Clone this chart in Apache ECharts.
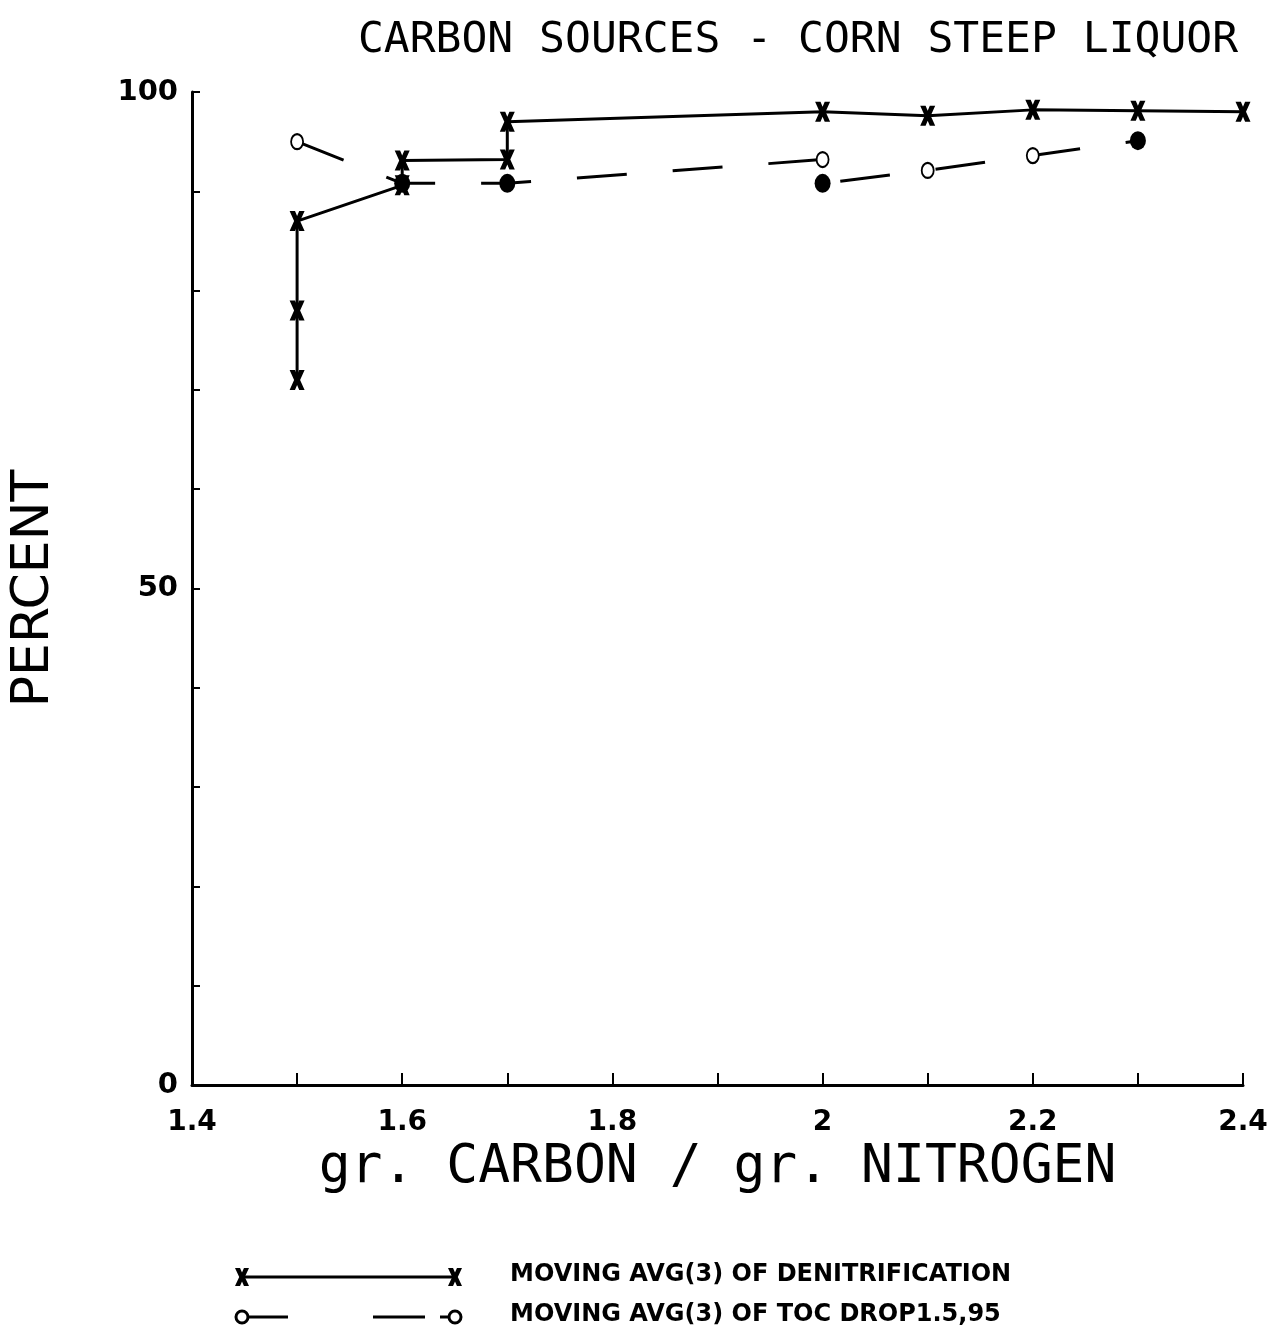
<!DOCTYPE html>
<html>
<head>
<meta charset="utf-8">
<script src="https://cdn.jsdelivr.net/npm/echarts@6/dist/echarts.min.js"></script>
<style>html,body{margin:0;padding:0;background:#fff;}#c{width:1274px;height:1343px;}</style>
</head>
<body>
<div id="c"></div>
<script>
// ---- data ----
const titleText = 'CARBON SOURCES - CORN STEEP LIQUOR';
const xAxisName = 'gr. CARBON / gr. NITROGEN';
const yAxisName = 'PERCENT';
const xTickLabels = ['1.4', '1.6', '1.8', '2', '2.2', '2.4'];
const yTickLabels = ['0', '50', '100'];
const denitName = 'MOVING AVG(3) OF DENITRIFICATION';
const tocName = 'MOVING AVG(3) OF TOC DROP1.5,95';
const denitX = [1.5, 1.5, 1.5, 1.6, 1.6, 1.7, 1.7, 2.0, 2.1, 2.2, 2.3, 2.4];
const denitY = [71, 78, 87, 90.6, 93.1, 93.2, 97.0, 98.0, 97.6, 98.2, 98.1, 98.0];
const tocX = [1.5, 1.6, 1.7, 2.0, 2.0, 2.1, 2.2, 2.3];
const tocY = [95.0, 90.8, 90.8, 93.2, 90.8, 92.1, 93.6, 95.1];
const tocFilled = [false, true, true, false, true, false, false, true];

const X_PATH = 'path://M0,0 L3.6,0 L5,3 L6.4,0 L10,0 L7,6 L10,12 L6.4,12 L5,9 L3.6,12 L0,12 L3,6 Z';

const chart = echarts.init(document.getElementById('c'));
const FONT = 'DejaVu Sans';
const MONO = 'DejaVu Sans Mono';

const denitData = denitX.map((x, i) => [x, denitY[i]]);
const tocData = tocX.map((x, i) => (tocFilled[i]
  ? { value: [x, tocY[i]], symbol: 'circle', symbolSize: [16, 19] }
  : { value: [x, tocY[i]], symbol: 'emptyCircle' }));

function xLabel(v) {
  const k = Math.round(v * 10);
  if (k % 2 !== 0) return '';
  const idx = (k - 14) / 2;
  return xTickLabels[idx] !== undefined ? xTickLabels[idx] : '';
}
function yLabel(v) {
  const s = String(Math.round(v));
  return yTickLabels.indexOf(s) >= 0 ? s : '';
}

// legend glyph helpers (legend decoration only, not data marks)
function xGlyph(cx, cy) {
  const pts = [[0,0],[3.6,0],[5,3],[6.4,0],[10,0],[7,6],[10,12],[6.4,12],[5,9],[3.6,12],[0,12],[3,6]]
    .map(p => [cx - 7 + p[0] * 1.4, cy - 9 + p[1] * 1.5]);
  return { type: 'polygon', shape: { points: pts }, style: { fill: '#000' } };
}
function oGlyph(cx, cy) {
  return { type: 'circle', shape: { cx: cx, cy: cy, r: 6 }, style: { fill: '#fff', stroke: '#000', lineWidth: 3 } };
}

const legendY1 = 1277, legendY2 = 1317;
const option = {
  backgroundColor: '#fff',
  animation: false,
  title: {
    text: titleText,
    left: 793, top: 14, textAlign: 'center',
    textStyle: { fontFamily: MONO, fontSize: 43, fontWeight: 'normal', color: '#000' }
  },
  grid: { left: 190, right: 31, top: 92, bottom: 258, containLabel: false },
  xAxis: {
    type: 'value', min: 1.4, max: 2.4, interval: 0.1,
    name: xAxisName, nameLocation: 'middle', nameGap: 54,
    nameTextStyle: { fontFamily: MONO, fontSize: 53, color: '#000' },
    axisLine: { show: true, lineStyle: { color: '#000', width: 3 } },
    axisTick: { show: true, inside: true, length: 12, lineStyle: { color: '#000', width: 2 } },
    axisLabel: { formatter: xLabel, margin: 24, fontFamily: FONT, fontWeight: 'bold', fontSize: 28, color: '#000', showMinLabel: true, showMaxLabel: true },
    splitLine: { show: false }
  },
  yAxis: {
    type: 'value', min: 0, max: 100, interval: 10,
    name: yAxisName, nameLocation: 'middle', nameGap: 132, nameRotate: 90,
    nameTextStyle: { fontFamily: FONT, fontSize: 52, color: '#000' },
    axisLine: { show: true, lineStyle: { color: '#000', width: 3 } },
    axisTick: { show: true, inside: true, length: 8, lineStyle: { color: '#000', width: 2 } },
    axisLabel: { formatter: yLabel, margin: 14, fontFamily: FONT, fontWeight: 'bold', fontSize: 29, color: '#000' },
    splitLine: { show: false }
  },
  series: [
    {
      name: denitName, type: 'line', data: denitData,
      symbol: X_PATH, symbolSize: [15, 20], symbolKeepAspect: false,
      itemStyle: { color: '#000' },
      lineStyle: { color: '#000', width: 3 },
      z: 3
    },
    {
      name: tocName, type: 'line', data: tocData,
      symbol: 'emptyCircle', symbolSize: [12, 15],
      itemStyle: { color: '#000', borderWidth: 3 },
      lineStyle: { color: '#000', width: 3, type: [50, 46] },
      z: 2
    }
  ],
  graphic: [
    { type: 'line', shape: { x1: 242, y1: legendY1, x2: 455, y2: legendY1 }, style: { stroke: '#000', lineWidth: 3 } },
    xGlyph(242, legendY1),
    xGlyph(455, legendY1),
    { type: 'text', left: 510, top: legendY1 - 14, style: { text: denitName, font: 'bold 24px "DejaVu Sans"', fill: '#000' } },
    { type: 'line', shape: { x1: 248, y1: legendY2, x2: 288, y2: legendY2 }, style: { stroke: '#000', lineWidth: 3 } },
    { type: 'line', shape: { x1: 373, y1: legendY2, x2: 425, y2: legendY2 }, style: { stroke: '#000', lineWidth: 3 } },
    { type: 'line', shape: { x1: 440, y1: legendY2, x2: 449, y2: legendY2 }, style: { stroke: '#000', lineWidth: 3 } },
    oGlyph(242, legendY2),
    oGlyph(455, legendY2),
    { type: 'text', left: 510, top: legendY2 - 14, style: { text: tocName, font: 'bold 24px "DejaVu Sans"', fill: '#000' } }
  ]
};
chart.setOption(option);
</script>
</body>
</html>
